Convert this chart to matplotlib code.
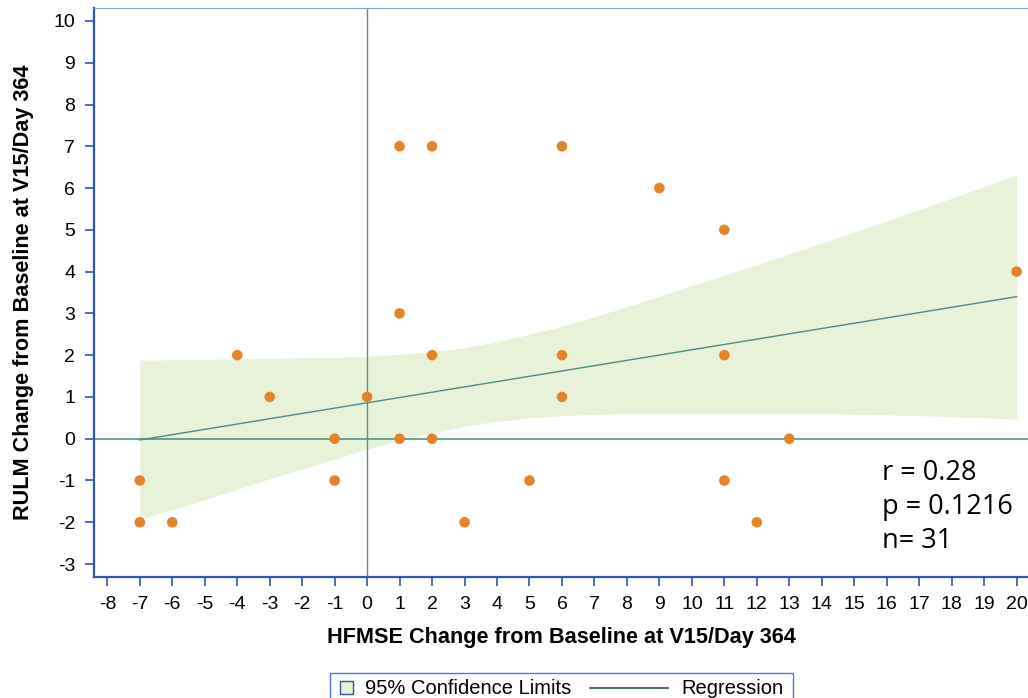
import matplotlib.pyplot as plt
from matplotlib.patches import Rectangle
from matplotlib.lines import Line2D

# scatter points (HFMSE change, RULM change)
hfmse = [-7, -7, -6, -4, -3, -1, -1, 0, 1, 1, 1, 2, 2, 2, 3, 5, 6, 6, 6, 9, 11, 11, 11, 12, 13, 20]
rulm = [-1, -2, -2, 2, 1, 0, -1, 1, 7, 3, 0, 7, 2, 0, -2, -1, 7, 2, 1, 6, 5, 2, -1, -2, 0, 4]

# regression line end points
reg_x = [-7, 20]
reg_y = [-0.03, 3.40]

# 95% confidence band
band_x = [-7, -5, -3, -1, 0, 1, 2, 3, 4, 5, 6, 7, 8, 10, 12, 14, 16, 18, 20]
band_upper = [1.88, 1.90, 1.92, 1.95, 1.97, 2.02, 2.08, 2.18, 2.32, 2.50, 2.69, 2.92, 3.16,
              3.66, 4.16, 4.68, 5.21, 5.76, 6.31]
band_lower = [-1.93, -1.46, -0.96, -0.49, -0.25, -0.04, 0.14, 0.30, 0.42, 0.50, 0.55, 0.58, 0.60,
              0.61, 0.61, 0.60, 0.57, 0.53, 0.47]

stats = ['r = 0.28', 'p = 0.1216', 'n= 31']
legend_labels = ['95% Confidence Limits', 'Regression']

blue = '#2f55b5'
teal = '#4f9488'
band_col = '#e8f2d8'
orange = '#e5832a'

plt.rcParams['font.family'] = ['Liberation Sans', 'DejaVu Sans']
plt.rcParams['axes.unicode_minus'] = False

W, H = 1028, 698
fig = plt.figure(figsize=(W / 100, H / 100), dpi=100)
ax = fig.add_axes([94 / W, 121 / H, 1 - 94 / W, 569 / H])


def fx(x):
    return x / W


def fy(y):
    return 1 - y / H


ax.fill_between(band_x, band_lower, band_upper, color=band_col, lw=0, zorder=1)
ax.axhline(0, color=teal, lw=1.2, zorder=2)
ax.axvline(0, color=teal, lw=1.0, zorder=2)
ax.plot(reg_x, reg_y, color='#4a8a8a', lw=1.0, zorder=3)
ax.scatter(hfmse, rulm, s=58, color=orange, edgecolors='none', zorder=4)

ax.set_xlim(-8.41, 20.35)
ax.set_ylim(-3.31, 10.31)
ax.set_xticks(range(-8, 21))
ax.set_yticks(range(-3, 11))

ax.spines['right'].set_visible(False)
ax.spines['top'].set_color('#7f9fdf')
ax.spines['top'].set_linewidth(0.8)
for s in ['left', 'bottom']:
    ax.spines[s].set_color(blue)
    ax.spines[s].set_linewidth(1.6)
ax.tick_params(direction='out', length=6.5, width=1.2, color=blue,
               labelsize=14, pad=7)

ax.set_xlabel('HFMSE Change from Baseline at V15/Day 364', fontsize=15.6,
              fontweight='bold', labelpad=10)
ax.set_ylabel('RULM Change from Baseline at V15/Day 364', fontsize=15.6,
              fontweight='bold', labelpad=14)

for i, t in enumerate(stats):
    fig.text(fx(882), fy(473 + 34 * i), t, fontsize=19.5,
             family='Open Sans', va='center', ha='left')

# legend box at the bottom, drawn by hand (cut by the lower edge as in the original)
fig.add_artist(Rectangle((fx(330), fy(706)), fx(793) - fx(330), fy(673) - fy(706),
                         transform=fig.transFigure, facecolor='white',
                         edgecolor='#5577cc', lw=1.0))
fig.add_artist(Rectangle((fx(340), fy(694)), fx(353) - fx(340), fy(681) - fy(694),
                         transform=fig.transFigure, facecolor=band_col,
                         edgecolor=blue, lw=1.0))
fig.text(fx(365), fy(688), legend_labels[0], fontsize=14.5, va='center', ha='left')
fig.add_artist(Line2D([fx(590), fx(668)], [fy(688), fy(688)],
                      transform=fig.transFigure, color='#1f5f5a', lw=1.2))
fig.text(fx(681), fy(688), legend_labels[1], fontsize=14.5, va='center', ha='left')

fig.savefig('out.png', dpi=100)
